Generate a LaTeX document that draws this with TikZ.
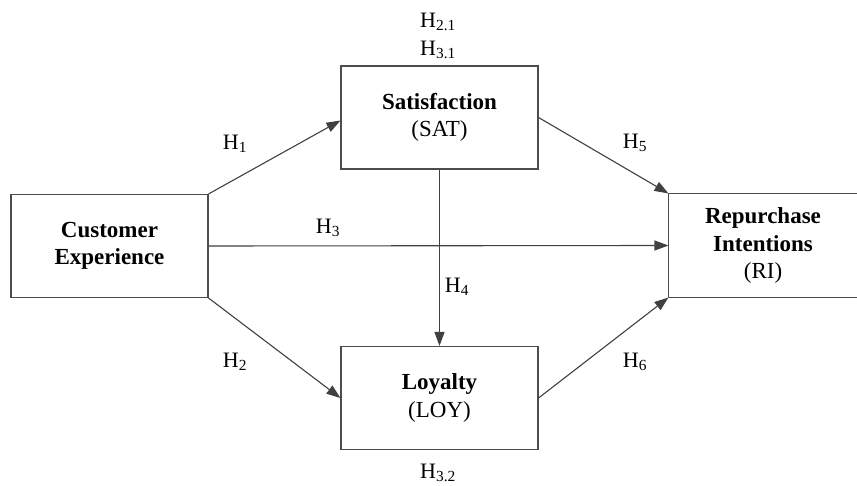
\documentclass[tikz,border=0pt]{standalone}
\usepackage{fontspec}
\setmainfont{Liberation Serif}
\usetikzlibrary{arrows.meta,positioning,calc}

\begin{document}
\begin{tikzpicture}[x=1pt,y=-1pt,
  box/.style={draw=black!70, line width=1.1pt, minimum width=197pt, minimum height=103pt,
    align=center, inner sep=0pt, font=\fontsize{23}{27.5}\selectfont},
  link/.style={draw=black!75, line width=1.1pt, -{Triangle[length=14pt,width=10pt]}},
  hyp/.style={inner sep=0pt, font=\fontsize{22}{27}\selectfont}]

\useasboundingbox (0,0) rectangle (857,486);

% constructs
\node[box] (CE) at (109.5,246) {\textbf{Customer}\\\textbf{Experience}};
\node[box] (SAT) at (439.5,117.5) {\textbf{Satisfaction}\\(SAT)};
\node[box] (LOY) at (439.5,398) {\textbf{Loyalty}\\(LOY)};
\node[box, draw=none, minimum width=188pt] (RI) at (763,245.5)
  {\textbf{Repurchase}\\\textbf{Intentions}\\(RI)};
\draw[black!70, line width=1.1pt] (RI.north east) -- (RI.north west) -- (RI.south west) -- (RI.south east);

% paths
\draw[link] (CE.north east) -- ([yshift=-3pt]SAT.west);
\draw[link] (CE.east) -- (RI.west);
\draw[link] (CE.south east) -- (LOY.west);
\draw[link] (SAT.east) -- (RI.north west);
\draw[link] (LOY.east) -- (RI.south west);
\draw[link] (SAT.south) -- (LOY.north);

% hypotheses
\node[hyp] (h1) at (235,144) {H\textsubscript{1}};
\node[hyp] (h2) at (235,362) {H\textsubscript{2}};
\node[hyp] (h3) at (328,228) {H\textsubscript{3}};
\node[hyp] (h4) at (457,287) {H\textsubscript{4}};
\node[hyp] (h5) at (635,143) {H\textsubscript{5}};
\node[hyp] (h6) at (635,362) {H\textsubscript{6}};
\node[hyp] (h21) at (438,22) {H\textsubscript{2.1}};
\node[hyp] (h31) at (438,50) {H\textsubscript{3.1}};
\node[hyp] (h32) at (438,473) {H\textsubscript{3.2}};

\end{tikzpicture}
\end{document}
